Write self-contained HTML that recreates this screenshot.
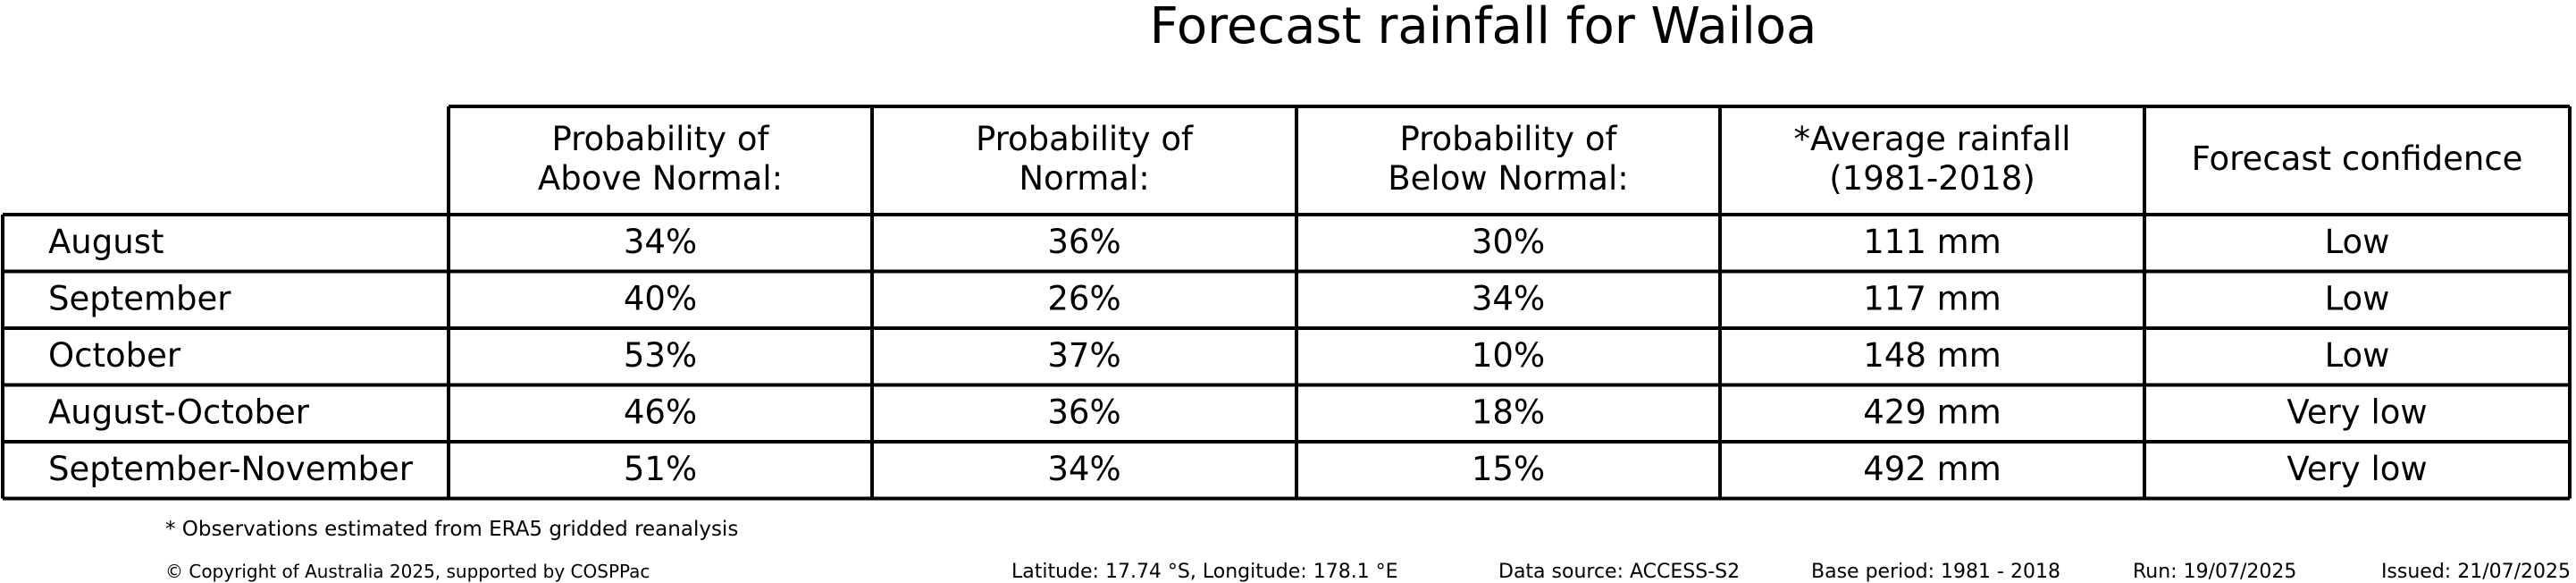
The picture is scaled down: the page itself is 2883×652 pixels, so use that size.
<!DOCTYPE html>
<html><head><meta charset="utf-8"><style>
html,body{margin:0;padding:0;background:#fff;}
svg{display:block;font-family:"DejaVu Sans","Liberation Sans",sans-serif;}
</style></head><body>
<svg id="chart" width="2883" height="652" viewBox="0 0 2883 652" xmlns="http://www.w3.org/2000/svg">
<rect width="2883" height="652" fill="#fff"/>
<text x="1660" y="48" font-size="56" text-anchor="middle">Forecast rainfall for Wailoa</text>
<g id="tbl"></g>
<text x="185" y="599" font-size="23">* Observations estimated from ERA5 gridded reanalysis</text>
<text x="185" y="646" font-size="20">© Copyright of Australia 2025, supported by COSPPac</text>
<text x="1132" y="646" font-size="22">Latitude: 17.74 °S, Longitude: 178.1 °E</text>
<text x="1677" y="646" font-size="22">Data source: ACCESS-S2</text>
<text x="2027" y="646" font-size="22">Base period: 1981 - 2018</text>
<text x="2387" y="646" font-size="22">Run: 19/07/2025</text>
<text x="2877" y="646" font-size="22" text-anchor="end">Issued: 21/07/2025</text>
</svg>
<script>
const periods = ["August","September","October","August-October","September-November"];
const aboveNormal = [34,40,53,46,51];
const normal = [36,26,37,36,34];
const belowNormal = [30,34,10,18,15];
const avgRainfall = [111,117,148,429,492];
const confidence = ["Low","Low","Low","Very low","Very low"];
const headers = [["Probability of","Above Normal:"],["Probability of","Normal:"],["Probability of","Below Normal:"],["*Average rainfall","(1981-2018)"],["Forecast confidence"]];

const NS = "http://www.w3.org/2000/svg";
const g = document.getElementById('tbl');
const colX = [3,502,976,1451,1925,2400,2876];
const headTop = 119, headBot = 240, rowH = 63.5;
function mk(tag, attrs){const e=document.createElementNS(NS,tag);for(const k in attrs)e.setAttribute(k,attrs[k]);g.appendChild(e);return e;}
function line(x1,y1,x2,y2){const l=mk('line',{x1,y1,x2,y2,stroke:'#000','stroke-width':4});

}
function txt(s,x,y,anchor,name){const t=mk('text',{x,y,'font-size':37,'text-anchor':anchor});t.textContent=s;

}

const n = periods.length;
const bottom = headBot + n*rowH;
// header box
line(colX[1],headTop,colX[6],headTop);
for(let i=1;i<colX.length;i++) line(colX[i],headTop,colX[i],bottom);
line(colX[0],headBot,colX[0],bottom);
for(let r=0;r<=n;r++) line(colX[0],headBot+r*rowH,colX[6],headBot+r*rowH);

headers.forEach((h,i)=>{
  const cx=(colX[i+1]+colX[i+2])/2;
  if(h.length===2){txt(h[0],cx,168,'middle','column-header');txt(h[1],cx,212,'middle','column-header');}
  else txt(h[0],cx,190,'middle','column-header');
});
periods.forEach((p,r)=>{
  const y=headBot+r*rowH+43;
  txt(p,54,y,'start','period-label');
  const vals=[aboveNormal[r]+'%',normal[r]+'%',belowNormal[r]+'%',avgRainfall[r]+' mm',confidence[r]];
  vals.forEach((v,i)=>txt(v,(colX[i+1]+colX[i+2])/2,y,'middle','table-cell'));
});
</script>
</body></html>
